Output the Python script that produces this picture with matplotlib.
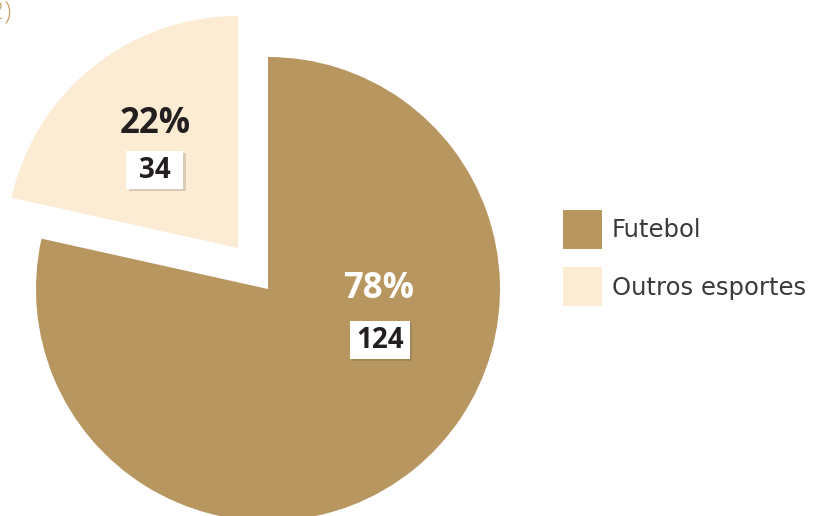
import matplotlib
matplotlib.use("Agg")
import matplotlib.pyplot as plt
from matplotlib.patches import Rectangle
import matplotlib.patheffects as pe

plt.rcParams['font.family'] = ['Open Sans', 'DejaVu Sans']

# data
categories = ["Futebol", "Outros esportes"]
counts = [124, 34]
colors = ["#B8965F", "#FBECD3"]

W, H = 824, 516
fig = plt.figure(figsize=(W / 100, H / 100), dpi=100)
ax = fig.add_axes([0, 0, 1, 1])

# pixel-like coords, y up
cx, cy, r = 268, 516 - 289, 232
wedges, _ = ax.pie(counts, colors=colors, startangle=90, counterclock=False,
                   center=(cx, cy), radius=r, wedgeprops=dict(linewidth=0))
# pull out the small slice (offset)
wedges[1].set_center((cx - 30, cy + 41))

ax.set_xlim(0, W)
ax.set_ylim(0, H)
ax.set_aspect('auto')
ax.axis('off')

total = sum(counts)
pcts = [round(100 * c / total) for c in counts]

# labels: (pct pos, box pos, pct color)
label_pos = [((379, 516 - 289), (380, 516 - 340), "white"),
             ((155, 516 - 124), (155, 516 - 170), "#231F20")]
box_w = [60, 57]
for i, (ppos, bpos, col) in enumerate(label_pos):
    ax.text(ppos[0], ppos[1], f"{pcts[i]}%", ha='center', va='center',
            fontsize=25, fontweight='bold', color=col)
    rect = Rectangle((bpos[0] - box_w[i] / 2, bpos[1] - 19), box_w[i], 38,
                     facecolor='white', edgecolor='none', zorder=3)
    rect.set_path_effects([pe.SimplePatchShadow(offset=(1.5, -1.5), alpha=0.2), pe.Normal()])
    ax.add_patch(rect)
    ax.text(bpos[0], bpos[1] - 1, str(counts[i]), ha='center', va='center',
            fontsize=20, fontweight='bold', color="#231F20", zorder=4)

# cut-off marker at top-left (partly outside the picture, as in the source)
ax.text(11, 516 - 12, "(2)", ha='right', va='center', fontsize=19,
        color="#C9A66B", fontweight='light')

leg = ax.legend(wedges, categories, loc='upper left',
                bbox_to_anchor=(563 / W, 1 - 210 / H), frameon=False,
                prop=dict(family='DejaVu Sans', size=17.5),
                handlelength=1.6, handleheight=2.1,
                labelspacing=0.75, handletextpad=0.4, borderpad=0,
                borderaxespad=0)
for t in leg.get_texts():
    t.set_color("#3a3a3a")

fig.savefig("out.png", dpi=100)
